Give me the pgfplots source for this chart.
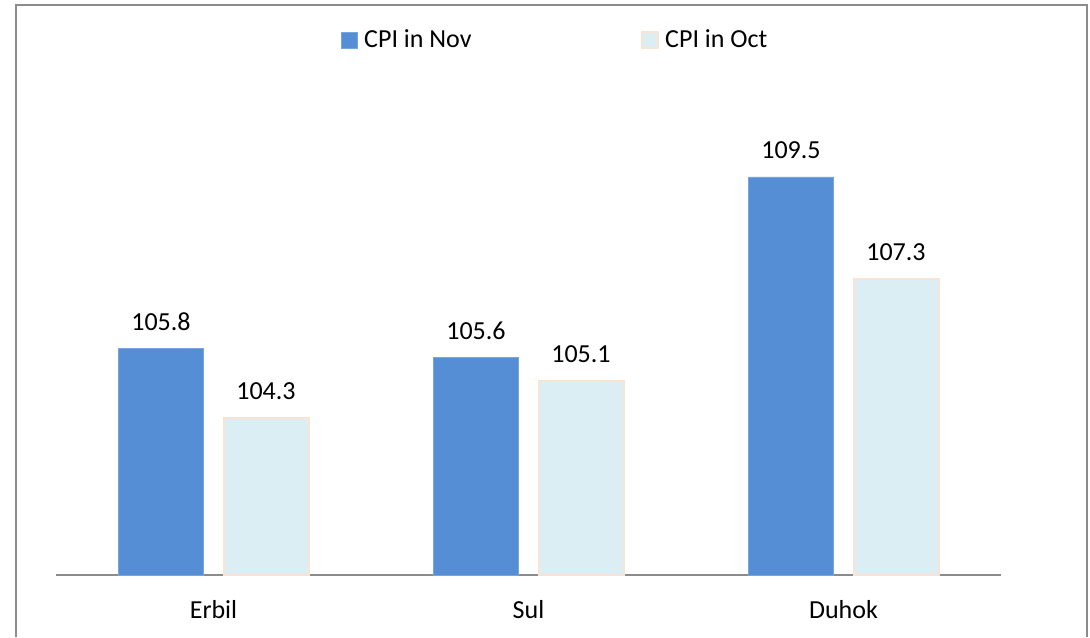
\documentclass[border=0pt]{standalone}
\usepackage{pgfplots}
\pgfplotsset{compat=1.18}
\usepackage{fontspec}
\setmainfont{Carlito}
\definecolor{nov}{HTML}{558ED5}
\definecolor{octfill}{HTML}{DAEEF3}
\definecolor{octedge}{HTML}{FBE3D3}
\definecolor{frame}{HTML}{8C8C8C}
\begin{document}
\begin{tikzpicture}
\useasboundingbox (0pt,0pt) rectangle (545pt,-318.5pt);
\draw[frame, line width=1pt] (8pt,-318.5pt) -- (8pt,-2.5pt) -- (543.5pt,-2.5pt) -- (543.5pt,-318.5pt);
\begin{axis}[
  at={(28pt,-287.5pt)}, anchor=south west,
  scale only axis, width=472.5pt, height=257.5pt,
  xmin=-0.5, xmax=2.5, ymin=100.92, ymax=112.02,
  ybar=10pt, bar width=42.5pt,
  axis x line=bottom, axis y line=none,
  x axis line style={draw=frame, line width=0.8pt, -},
  xtick={0,1,2}, xticklabels={Erbil,Sul,Duhok},
  major tick length=0pt,
  xticklabel style={anchor=base, yshift=-21.5pt, inner sep=0pt, font=\fontsize{13}{15}\selectfont},
  nodes near coords={\pgfmathprintnumber[fixed,precision=1,fixed zerofill,assume math mode=true]{\pgfplotspointmeta}},
  every node near coord/.append style={anchor=base, inner sep=0pt, yshift=9.2pt, font=\fontsize{13}{15}\selectfont, black},
  clip=false,
  legend columns=2,
  legend style={at={(0.3016,1.0388)}, anchor=west, draw=none, fill=none, inner sep=0pt,
    nodes={inner sep=0pt, anchor=west}, column sep=3pt, font=\fontsize{13}{15}\selectfont},
  legend image code/.code={\draw[#1] (0pt,-4pt) rectangle (8pt,4pt);},
]
\addplot[fill=nov, draw=nov!80!white, line width=0.4pt] coordinates {(0,105.8) (1,105.6) (2,109.5)};
\addplot[fill=octfill, draw=octedge, line width=1pt] coordinates {(0,104.3) (1,105.1) (2,107.3)};
\legend{\makebox[135.5pt][l]{CPI in Nov}, CPI in Oct}
\end{axis}
\end{tikzpicture}
\end{document}
